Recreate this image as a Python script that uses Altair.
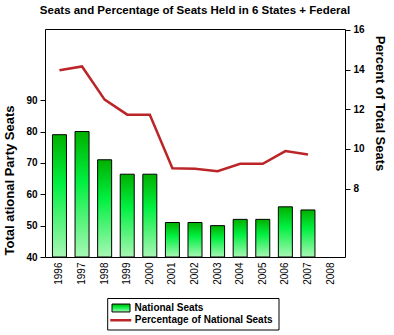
import altair as alt
import pandas as pd

years = ["1996", "1997", "1998", "1999", "2000", "2001", "2002",
         "2003", "2004", "2005", "2006", "2007", "2008"]
seats = [79, 80, 71, 66.4, 66.4, 51, 51, 50, 52, 52, 56, 55, None]
pct = [13.97, 14.16, 12.49, 11.73, 11.73, 9.03, 9.0, 8.88, 9.25, 9.25, 9.89, 9.72, None]
left_ticks = [40, 50, 60, 70, 80, 90]
right_ticks = [8, 10, 12, 14, 16]
bar_series = "National Seats"
line_series = "Percentage of National Seats"
title_text = "Seats and Percentage of Seats Held in 6 States + Federal"
left_title = "Total ational Party Seats"
right_title = "Percent of Total Seats"
seat_base = 40

df = pd.DataFrame({"year": years, "seats": seats, "pct": pct,
                   "bar_s": bar_series, "line_s": line_series})

FONT = "Liberation Sans"

x_enc = alt.X(
    "year:N",
    scale=alt.Scale(domain=years, paddingInner=0.38, paddingOuter=0.33),
    axis=alt.Axis(title=None, labelAngle=270, labelFontSize=10, labelFont=FONT,
                  labelColor="black", ticks=False, domain=False, labelPadding=5,
                  grid=False),
)

gradient = alt.LinearGradient(
    gradient="linear",
    stops=[
        alt.GradientStop(color="#00b000", offset=0),
        alt.GradientStop(color="#00f040", offset=0.4),
        alt.GradientStop(color="#a8f7b4", offset=1),
    ],
    x1=0, x2=0, y1=0, y2=1,
)

bars = (
    alt.Chart(df)
    .transform_filter("datum.seats != null")
    .mark_bar(fill=gradient, strokeWidth=1)
    .encode(
        x=x_enc,
        y=alt.Y(
            "seats:Q",
            scale=alt.Scale(domain=[40, 112.7], zero=False, nice=False),
            axis=alt.Axis(
                values=left_ticks, grid=False, domain=False, tickSize=5,
                tickColor="black", labelFontSize=10, labelFontWeight="bold",
                labelFont=FONT, labelColor="black", labelPadding=3,
                title=left_title, titleFontSize=13, titleFontWeight="bold",
                titleFont=FONT, titleColor="black", titleAngle=270,
                titleX=-32, titleY=151, titleAlign="center",
                titleBaseline="alphabetic",
            ),
        ),
        y2=alt.datum(seat_base),
        stroke=alt.Stroke(
            "bar_s:N",
            scale=alt.Scale(domain=[bar_series], range=["black"]),
            legend=alt.Legend(
                title=None, orient="none", legendX=66.5, legendY=269.5,
                symbolType="M-1,-0.44H1V0.44H-1Z", symbolSize=324,
                symbolFillColor="#00e650", symbolStrokeColor="black",
                symbolStrokeWidth=1, labelFontSize=10, labelFontWeight="bold",
                labelFont=FONT, labelColor="black", labelOffset=4, padding=0,
            ),
        ),
    )
)

line = (
    alt.Chart(df)
    .transform_filter("datum.pct != null")
    .mark_line(strokeWidth=2.5)
    .encode(
        x=x_enc,
        y=alt.Y(
            "pct:Q",
            scale=alt.Scale(domain=[4.55, 16.05], zero=False, nice=False),
            axis=alt.Axis(
                orient="right", values=right_ticks, grid=False, domain=False,
                tickSize=5, tickColor="black", labelFontSize=10,
                labelFontWeight="bold", labelFont=FONT, labelColor="black",
                labelPadding=3, title=right_title, titleFontSize=13,
                titleFontWeight="bold", titleFont=FONT, titleColor="black",
                titleAngle=90, titleX=30, titleY=74, titleAlign="center",
                titleBaseline="alphabetic",
            ),
        ),
        color=alt.Color(
            "line_s:N",
            scale=alt.Scale(domain=[line_series], range=["#bb2528"]),
            legend=alt.Legend(
                title=None, orient="none", legendX=63.75, legendY=279.25,
                symbolType="stroke", symbolSize=441, symbolStrokeWidth=2.5,
                labelFontSize=10, labelFontWeight="bold", labelFont=FONT,
                labelColor="black", labelOffset=2, padding=0,
            ),
        ),
    )
)

box = (
    alt.Chart(pd.DataFrame({"k": [0]}))
    .mark_rect(fill="white", stroke="black", strokeWidth=1)
    .encode(x=alt.value(62.7), x2=alt.value(234), y=alt.value(269.5), y2=alt.value(301))
)

chart = (
    alt.layer(box, bars, line)
    .resolve_scale(y="independent")
    .properties(
        width=300, height=228,
        padding={"left": 45, "top": 29, "right": 49, "bottom": 78},
        autosize="none",
        title=alt.Title(title_text, fontSize=11.5, fontWeight="bold", font=FONT,
                        color="black", anchor="middle", offset=6, dy=7,
                        baseline="alphabetic"),
        background="white",
    )
    .configure_view(stroke="black", strokeWidth=1)
)

chart.save("out.html", embed_options={"renderer": "svg", "actions": False})
